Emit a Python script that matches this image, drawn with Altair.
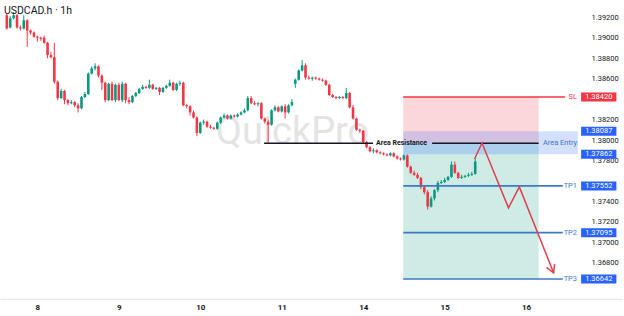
import altair as alt
import pandas as pd

# ---------------- data ----------------
day_ticks = [0, 24, 48, 72, 96, 120, 144]
day_labels = ["8", "9", "10", "11", "14", "15", "16"]
# 1.38400 and 1.37600 sit under the SL / TP1 price tags in the reference
price_ticks = [1.368, 1.370, 1.372, 1.374, 1.378, 1.380,
               1.382, 1.386, 1.388, 1.390, 1.392]
first_hour = -9

O = [1.3922, 1.3910, 1.3919, 1.3922, 1.3910, 1.3909, 1.3917, 1.3907, 1.3905, 1.3901, 1.3900, 1.3900,
     1.3895, 1.3883, 1.3881, 1.3857, 1.3841, 1.3848, 1.3839, 1.3836, 1.3837, 1.3834, 1.3831, 1.3842,
     1.3845, 1.3865, 1.3870, 1.3872, 1.3863, 1.3856, 1.3839, 1.3855, 1.3839, 1.3854, 1.3839, 1.3855,
     1.3839, 1.3837, 1.3843, 1.3846, 1.3850, 1.3852, 1.3851, 1.3854, 1.3850, 1.3851, 1.3847, 1.3851,
     1.3853, 1.3856, 1.3849, 1.3855, 1.3856, 1.3834, 1.3833, 1.3827, 1.3822, 1.3807, 1.3817, 1.3818,
     1.3813, 1.3812, 1.3811, 1.3817, 1.3822, 1.3824, 1.3821, 1.3824, 1.3823, 1.3825, 1.3827,
     1.3829, 1.3841, 1.3836, 1.3835, 1.3836, 1.3821, 1.3818, 1.3815, 1.3829, 1.3832, 1.3828, 1.3833,
     1.3827, 1.3834, 1.3855, 1.3859, 1.3868, 1.3873, 1.3861, 1.3860, 1.3861, 1.3860, 1.3859, 1.3858,
     1.3854, 1.3844, 1.3842, 1.3841, 1.3842, 1.3841, 1.3846, 1.3832, 1.3821, 1.3810, 1.3809,
     1.3798, 1.3793, 1.3789, 1.3790, 1.3788, 1.3787, 1.3786, 1.3785, 1.3787, 1.3784, 1.3782, 1.3781,
     1.3785, 1.3774, 1.3768, 1.3766, 1.3763, 1.3754, 1.3749, 1.3735, 1.3743, 1.3751, 1.3758, 1.3759,
     1.3761, 1.3764, 1.3776, 1.3768, 1.3763, 1.3764, 1.3765, 1.3766, 1.3767]

C = [1.3909, 1.3919, 1.3922, 1.3910, 1.3909, 1.3917, 1.3907, 1.3905, 1.3901, 1.3900, 1.3899, 1.3895,
     1.3883, 1.3881, 1.3857, 1.3841, 1.3848, 1.3839, 1.3836, 1.3837, 1.3834, 1.3831, 1.3842, 1.3845,
     1.3865, 1.3870, 1.3872, 1.3863, 1.3856, 1.3839, 1.3855, 1.3839, 1.3854, 1.3839, 1.3855, 1.3839,
     1.3837, 1.3843, 1.3846, 1.3850, 1.3852, 1.3851, 1.3854, 1.3850, 1.3851, 1.3847, 1.3851, 1.3853,
     1.3856, 1.3849, 1.3855, 1.3856, 1.3834, 1.3833, 1.3827, 1.3822, 1.3807, 1.3817, 1.3818, 1.3813,
     1.3812, 1.3811, 1.3817, 1.3822, 1.3824, 1.3821, 1.3824, 1.3823, 1.3825, 1.3827, 1.3829,
     1.3841, 1.3836, 1.3835, 1.3836, 1.3821, 1.3818, 1.3815, 1.3829, 1.3832, 1.3828, 1.3833, 1.3827,
     1.3834, 1.3837, 1.3859, 1.3868, 1.3873, 1.3861, 1.3860, 1.3861, 1.3860, 1.3859, 1.3858, 1.3854,
     1.3844, 1.3842, 1.3841, 1.3842, 1.3841, 1.3846, 1.3832, 1.3821, 1.3810, 1.3809, 1.3798,
     1.3793, 1.3789, 1.3790, 1.3788, 1.3787, 1.3786, 1.3785, 1.3787, 1.3784, 1.3782, 1.3781, 1.3785,
     1.3774, 1.3768, 1.3766, 1.3763, 1.3754, 1.3749, 1.3735, 1.3743, 1.3751, 1.3758, 1.3759, 1.3761,
     1.3764, 1.3776, 1.3768, 1.3763, 1.3764, 1.3765, 1.3766, 1.3767, 1.3779]

H = [1.3924, 1.3921, 1.3925, 1.3923, 1.3912, 1.3922, 1.3918, 1.3908, 1.3906, 1.3902, 1.3901, 1.3902,
     1.3896, 1.3886, 1.3895, 1.3858, 1.3850, 1.3849, 1.3840, 1.3839, 1.3838, 1.3836, 1.3843, 1.3847,
     1.3866, 1.3872, 1.3875, 1.3873, 1.3864, 1.3857, 1.3856, 1.3857, 1.3855, 1.3856, 1.3857, 1.3856,
     1.3842, 1.3844, 1.3847, 1.3851, 1.3854, 1.3853, 1.3859, 1.3855, 1.3852, 1.3852, 1.3852, 1.3854,
     1.3859, 1.3857, 1.3856, 1.3858, 1.3857, 1.3835, 1.3834, 1.3829, 1.3823, 1.3818, 1.3820, 1.3819,
     1.3815, 1.3813, 1.3818, 1.3823, 1.3826, 1.3825, 1.3825, 1.3825, 1.3826, 1.3828, 1.3831,
     1.3843, 1.3843, 1.3838, 1.3837, 1.3837, 1.3822, 1.3820, 1.3830, 1.3834, 1.3833, 1.3834, 1.3835,
     1.3835, 1.3840, 1.3860, 1.3869, 1.3878, 1.3875, 1.3863, 1.3862, 1.3862, 1.3861, 1.3860, 1.3859,
     1.3855, 1.3845, 1.3843, 1.3843, 1.3843, 1.3851, 1.3847, 1.3834, 1.3822, 1.3811, 1.3810,
     1.3799, 1.3794, 1.3792, 1.3791, 1.3789, 1.3788, 1.3787, 1.3788, 1.3788, 1.3785, 1.3783, 1.3786,
     1.3786, 1.3775, 1.3770, 1.3768, 1.3764, 1.3755, 1.3751, 1.3745, 1.3752, 1.3760, 1.3761, 1.3763,
     1.3765, 1.3779, 1.3779, 1.3769, 1.3766, 1.3766, 1.3768, 1.3769, 1.3782]

L = [1.3908, 1.3909, 1.3918, 1.3909, 1.3907, 1.3908, 1.3891, 1.3903, 1.3900, 1.3896, 1.3897, 1.3894,
     1.3880, 1.3880, 1.3855, 1.3839, 1.3840, 1.3835, 1.3834, 1.3835, 1.3832, 1.3827, 1.3830, 1.3841,
     1.3844, 1.3864, 1.3868, 1.3861, 1.3849, 1.3837, 1.3838, 1.3838, 1.3837, 1.3838, 1.3837, 1.3836,
     1.3835, 1.3836, 1.3842, 1.3845, 1.3849, 1.3850, 1.3850, 1.3849, 1.3849, 1.3844, 1.3846, 1.3850,
     1.3852, 1.3848, 1.3848, 1.3853, 1.3833, 1.3831, 1.3824, 1.3821, 1.3804, 1.3806, 1.3815, 1.3812,
     1.3811, 1.3810, 1.3810, 1.3816, 1.3821, 1.3820, 1.3820, 1.3822, 1.3822, 1.3824, 1.3826,
     1.3828, 1.3835, 1.3834, 1.3833, 1.3820, 1.3816, 1.3798, 1.3814, 1.3828, 1.3827, 1.3827, 1.3821,
     1.3826, 1.3833, 1.3851, 1.3858, 1.3867, 1.3859, 1.3859, 1.3858, 1.3859, 1.3858, 1.3857, 1.3853,
     1.3843, 1.3841, 1.3840, 1.3840, 1.3840, 1.3840, 1.3831, 1.3820, 1.3809, 1.3807, 1.3797,
     1.3792, 1.3788, 1.3787, 1.3787, 1.3786, 1.3785, 1.3784, 1.3784, 1.3783, 1.3781, 1.3780, 1.3780,
     1.3773, 1.3767, 1.3765, 1.3762, 1.3752, 1.3747, 1.3732, 1.3734, 1.3741, 1.3749, 1.3757, 1.3758,
     1.3760, 1.3763, 1.3767, 1.3762, 1.3762, 1.3763, 1.3764, 1.3765, 1.3766]

# trade setup
level_names = ["SL", "TP1", "TP2", "TP3"]
level_prices = [1.38420, 1.37552, 1.37095, 1.36642]
entry_band = [1.38087, 1.37862]
entry_price = 1.37968
trade_start, trade_end = 107.8, 147.7
resist_segments = [(66.8, 98.9), (116.3, 147.7)]
path_t = [128.8, 131.0, 138.8, 142.0, 152.1]
path_p = [1.37815, 1.37971, 1.37337, 1.37542, 1.36703]
arrow_t = [152.4, 152.1, 150.0]
arrow_p = [1.36790, 1.36703, 1.36756]

# ---------------- styling ----------------
UP, DOWN = "#089981", "#f23645"
BLUE_LINE = "#3f78c4"
FONT = "Roboto"

xs = alt.Scale(domain=[-9.54, 159.6], nice=False, zero=False)
ys = alt.Scale(domain=[1.36449, 1.39366], nice=False, zero=False)

label_expr = " : ".join(f"datum.value == {t} ? '{l}'" for t, l in zip(day_ticks, day_labels)) + " : ''"
xaxis = alt.Axis(values=day_ticks, labelExpr=label_expr, grid=False, ticks=False,
                 domainColor="#e0e3eb", labelPadding=5, labelFontSize=8, labelFont=FONT,
                 labelFontWeight="bold", labelColor="#131722", title=None, labelOverlap=False,
                 zindex=0)
yaxis = alt.Axis(orient="right", values=price_ticks, format=".5f", grid=False, ticks=False,
                 domain=False, labelPadding=7, labelFontSize=7.5, labelFont=FONT,
                 labelColor="#131722", title=None, labelOverlap=False, zindex=0)


def X(f):
    return alt.X(f, type="quantitative", scale=xs, axis=xaxis)


def Y(f):
    return alt.Y(f, type="quantitative", scale=ys, axis=yaxis)


candles = pd.DataFrame({"t": list(range(first_hour, first_hour + len(O))),
                        "o": O, "h": H, "l": L, "c": C})
candles["dir"] = ["up" if c >= o else "down" for o, c in zip(O, C)]
col = alt.Color("dir:N", scale=alt.Scale(domain=["up", "down"], range=[UP, DOWN]), legend=None)

# boxes
boxes = pd.DataFrame({
    "x1": [trade_start, trade_start],
    "x2": [trade_end, trade_end],
    "y1": [level_prices[0], entry_price],
    "y2": [entry_price, level_prices[3]],
    "kind": ["risk", "reward"],
})
risk_box = alt.Chart(boxes).mark_rect(opacity=0.2).encode(
    x=X("x1"), x2="x2", y=Y("y1"), y2="y2",
    color=alt.Color("kind:N", scale=alt.Scale(domain=["risk", "reward"], range=[DOWN, UP]), legend=None))

band = alt.Chart(pd.DataFrame({"x1": [trade_start], "x2": [159.3],
                               "y1": [entry_band[0]], "y2": [entry_band[1]]})).mark_rect(
    color="#2962ff", opacity=0.2).encode(x=X("x1"), x2="x2", y=Y("y1"), y2="y2")

watermark = alt.Chart(pd.DataFrame({"s": ["QuickPro"]})).mark_text(
    font=FONT, fontSize=38, color="#e4e4e4", align="center", baseline="middle").encode(
    x=alt.value(293), y=alt.value(133), text="s:N")

axis_line = alt.Chart(pd.DataFrame({"s": [""]})).mark_rule(color="#e0e3eb", strokeWidth=1).encode(
    x=alt.value(585), x2=alt.value(624), y=alt.value(299.5))

wick = alt.Chart(candles).mark_rule(strokeWidth=1).encode(x=X("t"), y=Y("l"), y2="h", color=col)
body = alt.Chart(candles).mark_bar(size=2.6).encode(x=X("t"), y=Y("o"), y2="c", color=col)

resist = alt.Chart(pd.DataFrame({"x1": [a for a, b in resist_segments],
                                 "x2": [b for a, b in resist_segments],
                                 "y": [entry_price] * len(resist_segments)})).mark_rule(
    color="#131722", strokeWidth=1.5).encode(x=X("x1"), x2="x2", y=Y("y"))

lv = pd.DataFrame({"name": level_names, "p": level_prices,
                   "x1": [trade_start] * 4, "x2": [155.5, 154.8, 154.8, 154.8],
                   "kind": ["sl", "tp", "tp", "tp"]})
kind_col = alt.Color("kind:N", scale=alt.Scale(domain=["sl", "tp"], range=[DOWN, BLUE_LINE]), legend=None)
level_lines = alt.Chart(lv).mark_rule(strokeWidth=1.6).encode(
    x=X("x1"), x2="x2", y=Y("p"), color=kind_col)
level_text = alt.Chart(lv.assign(tx=159.0)).mark_text(
    font=FONT, fontSize=7.5, align="right", baseline="middle").encode(
    x=X("tx"), y=Y("p"), text="name:N", color=kind_col)

entry_text = alt.Chart(pd.DataFrame({"tx": [159.0], "p": [entry_price], "s": ["Area Entry"]})).mark_text(
    font=FONT, fontSize=7.5, align="right", baseline="middle", color="#4a74b8").encode(
    x=X("tx"), y=Y("p"), text="s:N")
resist_text = alt.Chart(pd.DataFrame({"tx": [99.8], "p": [entry_price], "s": ["Area Resistance"]})).mark_text(
    font=FONT, fontSize=7, fontWeight="bold", align="left", baseline="middle", color="#131722").encode(
    x=X("tx"), y=Y("p"), text="s:N")

# price tags on the scale
tag_prices = [level_prices[0], entry_band[0], entry_band[1]] + level_prices[1:]
tags = pd.DataFrame({"p": tag_prices,
                     "s": [f"{p:.5f}" for p in tag_prices],
                     "kind": ["sl", "tp", "tp", "tp", "tp", "tp"],
                     "x1": [160.2] * 6, "x2": [170.6] * 6, "tx": [165.4] * 6})
tag_col = alt.Color("kind:N", scale=alt.Scale(domain=["sl", "tp"], range=[DOWN, "#2962ff"]), legend=None)
tag_rect = alt.Chart(tags).mark_rect(yOffset=-4.5, y2Offset=4.5).encode(
    x=X("x1"), x2="x2", y=Y("p"), y2="p", color=tag_col)
tag_text = alt.Chart(tags).mark_text(font=FONT, fontSize=7.5, color="white", baseline="middle",
                                     align="center").encode(x=X("tx"), y=Y("p"), text="s:N")

path = alt.Chart(pd.DataFrame({"t": path_t, "p": path_p, "k": list(range(len(path_t)))})).mark_line(
    color="#e0404f", strokeWidth=1.5).encode(x=X("t"), y=Y("p"), order="k:Q")
arrow = alt.Chart(pd.DataFrame({"t": arrow_t, "p": arrow_p, "k": list(range(len(arrow_t)))})).mark_line(
    color="#e0404f", strokeWidth=1.5).encode(x=X("t"), y=Y("p"), order="k:Q")

title = alt.Chart(pd.DataFrame({"s": ["USDCAD.h · 1h"]})).mark_text(
    font=FONT, fontSize=10.5, color="#131722", align="left", baseline="alphabetic").encode(
    x=alt.value(4), y=alt.value(13.5), text="s:N")

chart = alt.layer(
    risk_box, band, watermark, axis_line, wick, body, resist, level_lines, level_text, entry_text,
    resist_text, path, arrow, tag_rect, tag_text, title
).resolve_scale(color="independent").properties(
    width=585, height=299, padding=0, background="white"
).configure_view(stroke=None)

chart.save("out.html", embed_options={"renderer": "svg", "actions": False})
